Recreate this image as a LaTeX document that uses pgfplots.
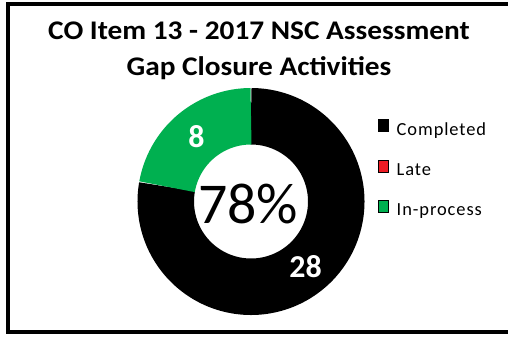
\documentclass[border=0pt]{standalone}
\usepackage{fontspec}
\setmainfont{Carlito}
\newfontfamily\legfont[LetterSpace=5]{Carlito}
\usepackage{graphicx}
\usepackage{pgfplots}
\pgfplotsset{compat=1.18}
\usepgfplotslibrary{polar}
\definecolor{cgreen}{RGB}{0,176,80}
\definecolor{cred}{RGB}{237,28,36}
\pgfplotsset{sqlegend/.style={legend image code/.code={\fill[##1] (0bp,-1bp) rectangle (10bp,11bp);}}}
\begin{document}
\begin{tikzpicture}[x=1bp,y=1bp]
\path[use as bounding box] (0,0) rectangle (508,336);
\fill[white] (0,0) rectangle (508,336);
\draw[line width=4bp] (7.5,4) rectangle (516,332);
\node[anchor=base, inner sep=0, font=\bfseries\fontsize{27}{30}\selectfont] at (259,297) {\scalebox{1.09}[1]{CO Item 13 - 2017 NSC Assessment}};
\node[anchor=base, inner sep=0, font=\bfseries\fontsize{27}{30}\selectfont] at (259,261) {\scalebox{1.09}[1]{Gap Closure Activities}};
\begin{polaraxis}[
  at={(251bp,134.5bp)}, anchor=center,
  scale only axis, width=227bp, height=227bp,
  xmin=0, xmax=360, ymin=0, ymax=113.5,
  hide axis, clip=false,
  legend style={at={(axis description cs:1.06,0.641)}, anchor=west,
    draw=none, fill=none, inner sep=0pt, row sep=20.5bp,
    font=\legfont\fontsize{18.5}{22}\selectfont,
    nodes={inner sep=0pt, text height=13bp, text depth=4bp},
    /tikz/every odd column/.append style={column sep=8bp}},
  legend cell align=left,
]
% Completed = 28 of 36 -> 280 deg clockwise from 12 o'clock
\addplot[forget plot, black, line width=56.5bp, domain=-190:90, samples=141] {85.25};
% In-process = 8 of 36 -> 80 deg
\addplot[forget plot, cgreen, line width=56.5bp, domain=90:170, samples=41] {85.25};
% Late = 0
\node[text=white, font=\bfseries\fontsize{32}{36}\selectfont] at (axis cs:130,85) {8};
\node[text=white, font=\bfseries\fontsize{32}{36}\selectfont] at (axis cs:-50,85) {28};
\node[font=\fontsize{58}{64}\selectfont] at (axis cs:214,3.6) {78\%};
\addlegendimage{sqlegend, fill=black}
\addlegendentry{Completed}
\addlegendimage{sqlegend, fill=cred}
\addlegendentry{Late}
\addlegendimage{sqlegend, fill=cgreen}
\addlegendentry{In-process}
\end{polaraxis}
\end{tikzpicture}
\end{document}
